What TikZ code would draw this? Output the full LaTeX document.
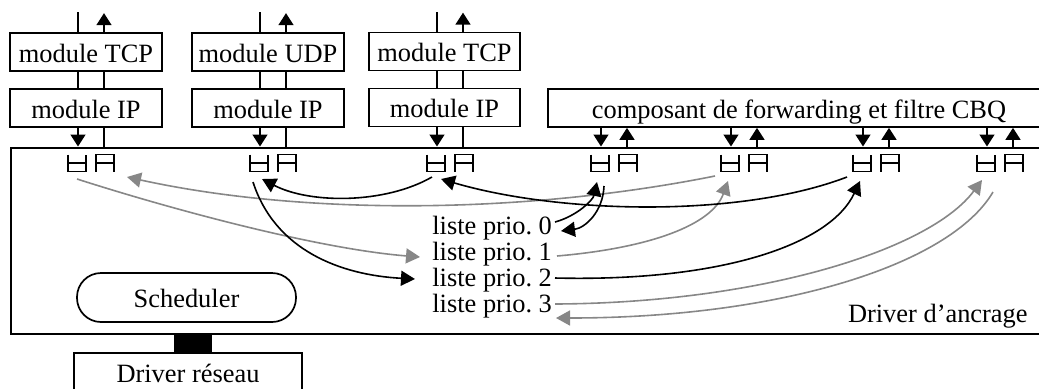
\documentclass[tikz,border=0pt]{standalone}
\usepackage{fontspec}
\setmainfont{Liberation Serif}
\usetikzlibrary{arrows.meta}
\definecolor{lgray}{gray}{0.53}
\frenchspacing
\begin{document}
\begin{tikzpicture}[x=0.5pt,y=-0.5pt,font=\fontsize{13.2}{13.2}\selectfont,
  box/.style={draw,line width=0.85pt,inner sep=0pt,text height=10pt,text depth=0pt,minimum height=19pt},
  tip/.style={-{Triangle[width=7.5pt,length=6pt]}},
  stub/.style={line width=0.75pt},
  blk/.style={line width=0.8pt,-{Triangle[width=7.5pt,length=7pt]}},
  gry/.style={blk,draw=lgray},
  glyph/.style={line width=0.6pt},
  lst/.style={anchor=base west,inner sep=0pt},
  qpair/.pic={
    \draw[glyph] (-10,-8) -- (-10,9) -- (8,9) -- (8,-8) (-10,0.5) -- (8,0.5);
    \draw[glyph] (18,9) -- (18,-8) -- (36,-8) -- (36,9) (18,0.5) -- (36,0.5);
  }]
\useasboundingbox (0,0) rectangle (1039,388);
\clip (0,0) rectangle (1039,388);

% module boxes
\node[box,minimum width=76pt] (up1) at (86,52) {module TCP};
\node[box,minimum width=76pt] (ip1) at (86,108) {module IP};
\node[box,minimum width=76pt] (up2) at (268,52) {module UDP};
\node[box,minimum width=76pt] (ip2) at (268,108) {module IP};
\node[box,minimum width=75.5pt] (up3) at (444.5,51.5) {module TCP};
\node[box,minimum width=75.5pt] (ip3) at (444.5,107.5) {module IP};
\node[box,minimum width=251pt] (comp) at (799,108) {composant de forwarding et filtre CBQ};

% main frame (Driver d'ancrage)
\node[draw,line width=1pt,inner sep=0pt,minimum width=519.5pt,minimum height=93.25pt] (frame) at (530.5,240.75) {};
\node[anchor=base east,inner sep=0pt] (anc) at (1028,322) {Driver d’ancrage};

% scheduler and network driver
\node[draw,line width=0.85pt,rounded corners=12pt,minimum width=109.5pt,minimum height=24.5pt,
      inner sep=0pt,text height=10pt,text depth=0pt] (sched) at (186.5,297.5) {Scheduler};
\node[box,minimum width=114pt] (drv) at (188,372) {Driver réseau};
\coordinate (bus) at (193,343);
\draw[line width=19pt] (bus |- frame.south) -- (bus |- drv.north);

% queue pairs and stubs from the protocol stacks
\foreach \i/\d in {1/78,2/260,3/437}{
  \coordinate (dn\i) at (\d,162.5);
  \coordinate (ux\i) at (\d+26,162.5);
  \pic at (dn\i) {qpair};
  \draw[stub] (dn\i |- up\i.north) -- ++(0,-20);
  \draw[stub,tip] (ux\i |- up\i.north) -- ++(0,-19);
  \draw[stub] (dn\i |- up\i.south) -- (dn\i |- ip\i.north);
  \draw[stub] (ux\i |- up\i.south) -- (ux\i |- ip\i.north);
  \draw[stub,tip] (dn\i |- ip\i.south) -- (dn\i |- frame.north);
  \draw[stub] (ux\i |- frame.north) -- (ux\i |- ip\i.south);
}
% queue pairs under the forwarding component
\foreach \i/\d in {4/601,5/731,6/863,7/987}{
  \coordinate (dn\i) at (\d,162.5);
  \coordinate (ux\i) at (\d+26,162.5);
  \pic at (dn\i) {qpair};
  \draw[stub,tip] (dn\i |- comp.south) -- (dn\i |- frame.north);
  \draw[stub,tip] (ux\i |- frame.north) -- (ux\i |- comp.south);
}

% priority lists
\node[lst] (l0) at (432,234) {liste prio. 0};
\node[lst] (l1) at (432,260) {liste prio. 1};
\node[lst] (l2) at (432,286) {liste prio. 2};
\node[lst] (l3) at (432,312) {liste prio. 3};

% connector end points
\coordinate (q1s) at (77,179);   \coordinate (q1e) at (127,177);
\coordinate (q2s) at (253,182);  \coordinate (q2e) at (262,179);
\coordinate (q3s) at (432,177);  \coordinate (q3e) at (441,179);
\coordinate (q4s) at (604,186);  \coordinate (q4e) at (597,182);
\coordinate (q5s) at (715,176);  \coordinate (q5e) at (728,181);
\coordinate (q6s) at (847,177);  \coordinate (q6e) at (860,181);
\coordinate (q7s) at (993,192);  \coordinate (q7e) at (982,180);
\coordinate (l0s) at (555,222);  \coordinate (l0e) at (561,231);
\coordinate (l1s) at (557,256);  \coordinate (l1e) at (420,257);
\coordinate (l2s) at (555,278);  \coordinate (l2e) at (415,279);
\coordinate (l3s) at (555,304);  \coordinate (l3e) at (556,318);

% gray connectors
\draw[gry] (q1s) .. controls (177,211) and (320,249) .. (l1e);
\draw[gry] (q5s) .. controls (520,215) and (300,215) .. (q1e);
\draw[gry] (l1s) .. controls (650,248) and (712,225) .. (q5e);
\draw[gry] (l3s) .. controls (760,303) and (930,250) .. (q7e);
\draw[gry] (q7s) .. controls (950,265) and (780,318) .. (l3e);
% black connectors
\draw[blk] (q3s) .. controls (385,204) and (310,204) .. (q2e);
\draw[blk] (q2s) .. controls (275,250) and (340,275) .. (l2e);
\draw[blk] (q6s) .. controls (740,218) and (560,214) .. (q3e);
\draw[blk] (l0s) .. controls (577,216) and (593,200) .. (q4e);
\draw[blk] (q4s) .. controls (603,212) and (585,228) .. (l0e);
\draw[blk] (l2s) .. controls (720,282) and (830,245) .. (q6e);
\end{tikzpicture}
\end{document}
